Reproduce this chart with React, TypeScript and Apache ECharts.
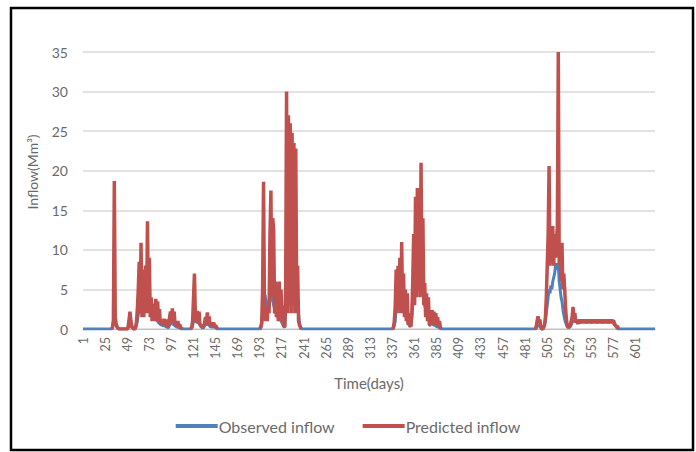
import React, { useEffect, useRef } from "react";
import * as echarts from "echarts";

// ---- data -----------------------------------------------------------
const DAY_COUNT = 622;
const dayLabels: string[] = Array.from({ length: DAY_COUNT }, (_, i) => String(i + 1));

// Predicted inflow, wet-period segments (start day, daily values)
const PRED_AB_START = 32;
const predictedAB = [
  0, 0.2, 1.0, 18.7, 1.5, 0.6, 0.3,
  0.1, 0, 0, 0, 0, 0, 0, 0, 0, 0, 0,
  0.3, 1.2, 2.2, 1.0, 0.3, 0.2, 0, 0, 0.2, 0.8,
  2.5, 5, 8.5, 2, 10.9, 1.5, 7.5, 1.5, 5.5, 8,
  2, 13.6, 2, 9, 1.5, 4, 1, 2.5, 3.2, 1,
  3.8, 1.5, 3.5, 1, 2.5, 0.6, 0.8, 1.2, 0.4, 1.3,
  0.5, 1.2, 0.3, 0.3, 0.5, 1.5, 2.2, 0.8, 2.6, 0.8,
  2.2, 0.5, 1.0, 0.3, 1.0, 0.3, 0.6, 0.2, 0.1, 0,
];
const PRED_C_START = 118;
const predictedC = [
  0, 0.2, 1.0, 4, 7.0, 1.5, 1.0, 2.3, 0.8, 2.2,
  0.5, 0.5, 0.3, 0.2, 0.3, 0.8, 1.5, 0.6, 2.1, 0.8,
  1.6, 0.4, 0.8, 0.3, 0.6, 0.8, 0.2, 0.5, 0.2, 0,
];
const PRED_D_START = 193;
const predictedD = [
  0, 0.3, 0.8, 5, 18.6, 3, 1, 2.5, 1, 3,
  2, 12, 17.5, 4, 14, 12.5, 2, 6, 1.5, 5.5,
  1, 6, 1.5, 5, 1, 3, 0.5, 0.2, 5, 30,
  2, 27, 3, 26, 2, 24.8, 3, 23.5, 2, 22.8,
  3, 8, 1, 0.5, 0.2, 0,
];
const PRED_E_START = 337;
const predictedE = [
  0, 0.2, 1, 3, 7.5, 2, 8, 2.5, 9, 2,
  11, 2, 7, 1.5, 5, 1, 4.5, 0.5, 2, 0.5,
  0.3, 2, 6, 12, 3, 16.7, 4, 17.8, 5, 16,
  4, 21, 5, 14, 3, 5.8, 1.5, 4.5, 1, 4,
  0.5, 0.5, 1.5, 2.4, 0.6, 2.2, 0.5, 2, 0.4, 1.5,
  0.3, 1, 0.2, 0,
];
const PRED_F_START = 492;
const predictedF = [
  0, 0.3, 1, 1.6, 0.8, 1.2, 0.3, 0, 0, 0.2,
  0.5, 1.5, 4, 8, 12, 20.6, 8, 12.9, 9, 13,
  8, 12, 9, 11, 13, 35, 8, 10.7, 6, 10.9,
  5, 7, 4.9, 2.5, 1, 0.3, 0.2, 0.3, 0.5, 1.0,
  1.5, 2.8, 1.5, 2, 0.8, 1.2, 0.6,
  1.2, 0.7, 1.1, 0.8, 1.2, 0.7, 1.2, 0.8, 1.1, 0.7,
  1.2, 0.8, 1.2, 0.7, 1.1, 0.8, 1.2, 0.7, 1.2, 0.8,
  1.1, 0.7, 1.2, 0.8, 1.2, 0.7, 1.1, 0.8, 1.2, 0.7,
  1.2, 0.8, 1.1, 0.7, 1.2, 0.8, 1.2, 0.7, 1.1,
  0.5, 0.5, 0.3, 0.4, 0.1, 0,
];

// Observed inflow, wet-period segments (zero elsewhere)
const obsAB = [
  0, 0.2, 1.0, 3.0, 1.0, 0.4, 0.2,
  0.1, 0, 0, 0, 0, 0, 0, 0, 0, 0, 0,
  0.1, 0.5, 0.8, 0.5, 0.2, 0.1, 0, 0, 0.1, 0.5,
  1, 1.8, 2.5, 3, 3.8, 4, 3.5, 3, 3.2, 3.5,
  3, 3.6, 3, 2.6, 2.2, 1.8, 1.5, 1.5, 1.3, 1.2,
  1.3, 1.1, 1, 0.8, 0.7, 0.6, 0.5, 0.5, 0.4, 0.4,
  0.4, 0.3, 0.3, 0.2, 0.2, 0.5, 0.7, 0.6, 0.8, 0.6,
  0.5, 0.4, 0.3, 0.3, 0.2, 0.2, 0.1, 0.1, 0, 0,
];
const obsC = [
  0, 0.1, 0.4, 1.0, 1.5, 1.2, 0.8, 0.9, 0.7, 0.8,
  0.5, 0.3, 0.2, 0.1, 0.2, 0.4, 0.6, 0.5, 0.7, 0.5,
  0.5, 0.3, 0.3, 0.2, 0.3, 0.3, 0.2, 0.2, 0.1, 0,
];
const obsD = [
  0, 0.1, 0.5, 2, 4, 4.5, 4, 3.5, 3, 2.5,
  3, 4, 4.5, 4, 3.5, 3, 2.5, 2, 2, 1.8,
  1.5, 1.5, 1.2, 1, 0.8, 0.5, 0.3, 0.2, 2, 3.5,
  4, 4.5, 4, 4.5, 5, 5, 4.5, 4.5, 4, 5,
  6, 4, 2, 0.8, 0.3, 0,
];
const obsE = [
  0, 0.1, 0.5, 1, 3, 4.5, 5, 4.5, 5, 4,
  4.5, 3.5, 3, 2.5, 2, 1.5, 1.2, 0.8, 0.5, 0.3,
  0.5, 1.5, 3, 5, 6, 7, 7.5, 8, 8.5, 8,
  8.5, 8, 7, 5.5, 4, 3, 2.5, 2, 1.5, 1.2,
  1, 0.8, 0.8, 0.7, 0.6, 0.5, 0.5, 0.4, 0.3, 0.3,
  0.2, 0.2, 0.1, 0,
];
const obsF = [
  0, 0.1, 0.3, 0.5, 0.4, 0.4, 0.2, 0, 0, 0.1,
  0.5, 1, 2, 3, 4, 5, 4.5, 5.5, 5, 6,
  6.5, 7, 8, 8.3, 7.5, 8, 6, 5, 4, 3.5,
  2.5, 1.8, 1.2, 0.8, 0.5, 0.3, 0.2, 0.2, 0.3, 0.5,
  0.8, 1.0, 1.0, 1.0, 0.9, 1.0, 1.0,
  1.0, 1.0, 1.1, 1.0, 1.0, 0.9, 1.0, 1.0, 1.1, 1.0,
  1.0, 1.0, 0.9, 1.0, 1.0, 1.1, 1.0, 1.0, 1.0, 0.9,
  1.0, 1.0, 1.1, 1.0, 1.0, 1.0, 0.9, 1.0, 1.0, 1.1,
  1.0, 1.0, 1.0, 0.9, 1.0, 1.0, 1.1, 1.0, 1.0,
  0.8, 0.5, 0.2, 0.1, 0, 0,
];

const predictedSegments: Array<[number, number[]]> = [
  [PRED_AB_START, predictedAB],
  [PRED_C_START, predictedC],
  [PRED_D_START, predictedD],
  [PRED_E_START, predictedE],
  [PRED_F_START, predictedF],
];
const observedSegments: Array<[number, number[]]> = [
  [PRED_AB_START, obsAB],
  [PRED_C_START, obsC],
  [PRED_D_START, obsD],
  [PRED_E_START, obsE],
  [PRED_F_START, obsF],
];

function buildSeries(segs: Array<[number, number[]]>, base: number | null) {
  const out: (number | null)[] = new Array(DAY_COUNT).fill(base);
  segs.forEach(([start, vals]) => {
    vals.forEach((v, i) => {
      const idx = start - 1 + i;
      if (idx < DAY_COUNT) out[idx] = v;
    });
  });
  return out;
}

const observedSeries = buildSeries(observedSegments, 0);
const predictedSeries = buildSeries(predictedSegments, null);

const FONT = "Lato, 'Liberation Sans', sans-serif";
const TEXT = "#6a6a6a";

export default function App() {
  const ref = useRef<HTMLDivElement>(null);
  useEffect(() => {
    if (!ref.current) return;
    const chart = echarts.init(ref.current, undefined, { renderer: "svg" });
    chart.setOption({
      animation: false,
      backgroundColor: "#ffffff",
      textStyle: { fontFamily: FONT },
      grid: { left: 83, right: 41, top: 52, bottom: 123, containLabel: false },
      xAxis: {
        type: "category",
        data: dayLabels,
        boundaryGap: false,
        name: "Time(days)",
        nameLocation: "middle",
        nameGap: 46,
        nameTextStyle: { color: TEXT, fontSize: 15, fontFamily: FONT },
        axisLine: { lineStyle: { color: "#bfbfbf", width: 1 } },
        axisTick: { show: false },
        axisLabel: {
          interval: 23,
          rotate: 90,
          margin: 8,
          color: TEXT,
          fontSize: 12.5,
          fontFamily: FONT,
        },
        splitLine: { show: false },
      },
      yAxis: {
        type: "value",
        min: 0,
        max: 35,
        interval: 5,
        axisLine: { show: false },
        axisTick: { show: false },
        axisLabel: { color: TEXT, fontSize: 14, margin: 15, fontFamily: FONT },
        splitLine: { lineStyle: { color: "#d9d9d9", width: 1.5 } },
      },
      legend: {
        top: 413,
        left: "center",
        icon: "rect",
        itemWidth: 42,
        itemHeight: 4,
        itemGap: 28,
        textStyle: { color: TEXT, fontSize: 16, fontFamily: FONT, padding: [0, 0, 0, -4] },
        data: ["Observed inflow", "Predicted inflow"],
      },
      graphic: [
        {
          type: "text",
          x: 32,
          y: 172,
          rotation: Math.PI / 2,
          style: {
            text: "Inflow(Mm³)",
            fill: TEXT,
            fontSize: 14,
            fontFamily: FONT,
            align: "center",
            verticalAlign: "middle",
          },
        },
        {
          type: "rect",
          silent: true,
          z: 100,
          shape: { x: 11, y: 8, width: 682, height: 442 },
          style: { fill: "none", stroke: "#000000", lineWidth: 2.5 },
        },
      ],
      series: [
        {
          name: "Observed inflow",
          type: "line",
          data: observedSeries,
          showSymbol: false,
          symbol: "none",
          lineStyle: { color: "#4F81BD", width: 3 },
          itemStyle: { color: "#4F81BD" },
          z: 2,
        },
        {
          name: "Predicted inflow",
          type: "line",
          data: predictedSeries,
          showSymbol: false,
          symbol: "none",
          connectNulls: false,
          lineStyle: { color: "#C0504D", width: 3.5 },
          itemStyle: { color: "#C0504D" },
          z: 3,
        },
      ],
    });
    return () => chart.dispose();
  }, []);
  return (
    <div
      ref={ref}
      style={{ position: "absolute", left: 0, top: 0, width: 696, height: 452, background: "#fff" }}
    />
  );
}
